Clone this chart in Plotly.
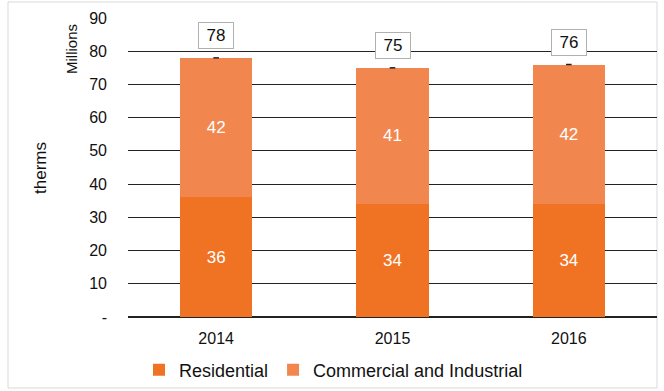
import plotly.graph_objects as go

years = ["2014", "2015", "2016"]
residential = [36, 34, 34]
commercial = [42, 41, 42]
totals = [r + c for r, c in zip(residential, commercial)]
y_ticks = [0, 10, 20, 30, 40, 50, 60, 70, 80, 90]
y_tick_text = ["-", "10", "20", "30", "40", "50", "60", "70", "80", "90"]

FONT = "Liberation Sans, Arial, sans-serif"
W, H = 664, 391
L, R, T, B = 128, 7, 18, 74
pw, ph = W - L - R, H - T - B

fig = go.Figure()
fig.add_bar(
    x=years, y=residential, name="Residential",
    marker=dict(color="#F07324", line=dict(width=0)),
    text=[str(v) for v in residential], textposition="inside",
    insidetextanchor="middle",
    textfont=dict(color="white", size=17, family=FONT),
)
fig.add_bar(
    x=years, y=commercial, name="Commercial and Industrial",
    marker=dict(color="#F1874F", line=dict(width=0)),
    text=[str(v) for v in commercial], textposition="inside",
    insidetextanchor="middle",
    textfont=dict(color="white", size=17, family=FONT),
)
# small total markers at the top of each stack
fig.add_scatter(
    x=years, y=totals, mode="markers", showlegend=False, hoverinfo="skip",
    marker=dict(symbol="line-ew", size=4, line=dict(color="#222", width=1.5)),
)

# total labels (category index positions)
for i, tot in enumerate(totals):
    fig.add_annotation(
        x=i, y=tot, xref="x", yref="y", text=str(tot), showarrow=False,
        yshift=22, font=dict(size=17, color="#111", family=FONT),
        bgcolor="white", bordercolor="#B0B0B0", borderwidth=1, borderpad=3,
        width=28,
    )

fig.add_annotation(
    text="therms", xref="paper", yref="paper",
    x=(40 - L) / pw, y=(H - B - 168) / ph, xanchor="center", yanchor="middle",
    textangle=-90, showarrow=False,
    font=dict(size=17, color="#111", family=FONT),
)
fig.add_annotation(
    text="Millions", xref="paper", yref="paper",
    x=(71 - L) / pw, y=(H - B - 49) / ph, xanchor="center", yanchor="middle",
    textangle=-90, showarrow=False,
    font=dict(size=15, color="#111", family=FONT),
)

# outer frame
fig.add_shape(
    type="rect", xref="paper", yref="paper", layer="below",
    x0=(8 - L) / pw, x1=(657 - L) / pw,
    y0=(H - B - 388) / ph, y1=(H - B - 2) / ph,
    line=dict(color="#D9D9D9", width=1),
)

fig.update_layout(
    width=W, height=H, barmode="stack", bargap=0.59,
    margin=dict(l=L, r=R, t=T, b=B, autoexpand=False),
    paper_bgcolor="white", plot_bgcolor="white",
    font=dict(family=FONT, size=16, color="#111"),
    legend=dict(
        orientation="h", x=(139 - L) / pw, xanchor="left",
        y=(H - B - 370) / ph, yanchor="middle",
        font=dict(size=18, family=FONT, color="#111"),
        bgcolor="rgba(0,0,0,0)", itemwidth=30, traceorder="normal",
    ),
    xaxis=dict(
        type="category", range=[-0.5, 2.5], showline=False, ticks="",
        tickfont=dict(size=16), automargin=False, ticklabelstandoff=10,
    ),
    yaxis=dict(
        range=[0, 90], tickvals=y_ticks, ticktext=y_tick_text,
        showgrid=True, gridcolor="#222", gridwidth=1.2,
        zeroline=True, zerolinecolor="#222", zerolinewidth=1.5,
        tickfont=dict(size=16), ticks="", ticklabelstandoff=20,
        automargin=False,
    ),
)

fig.write_html("out.html")
